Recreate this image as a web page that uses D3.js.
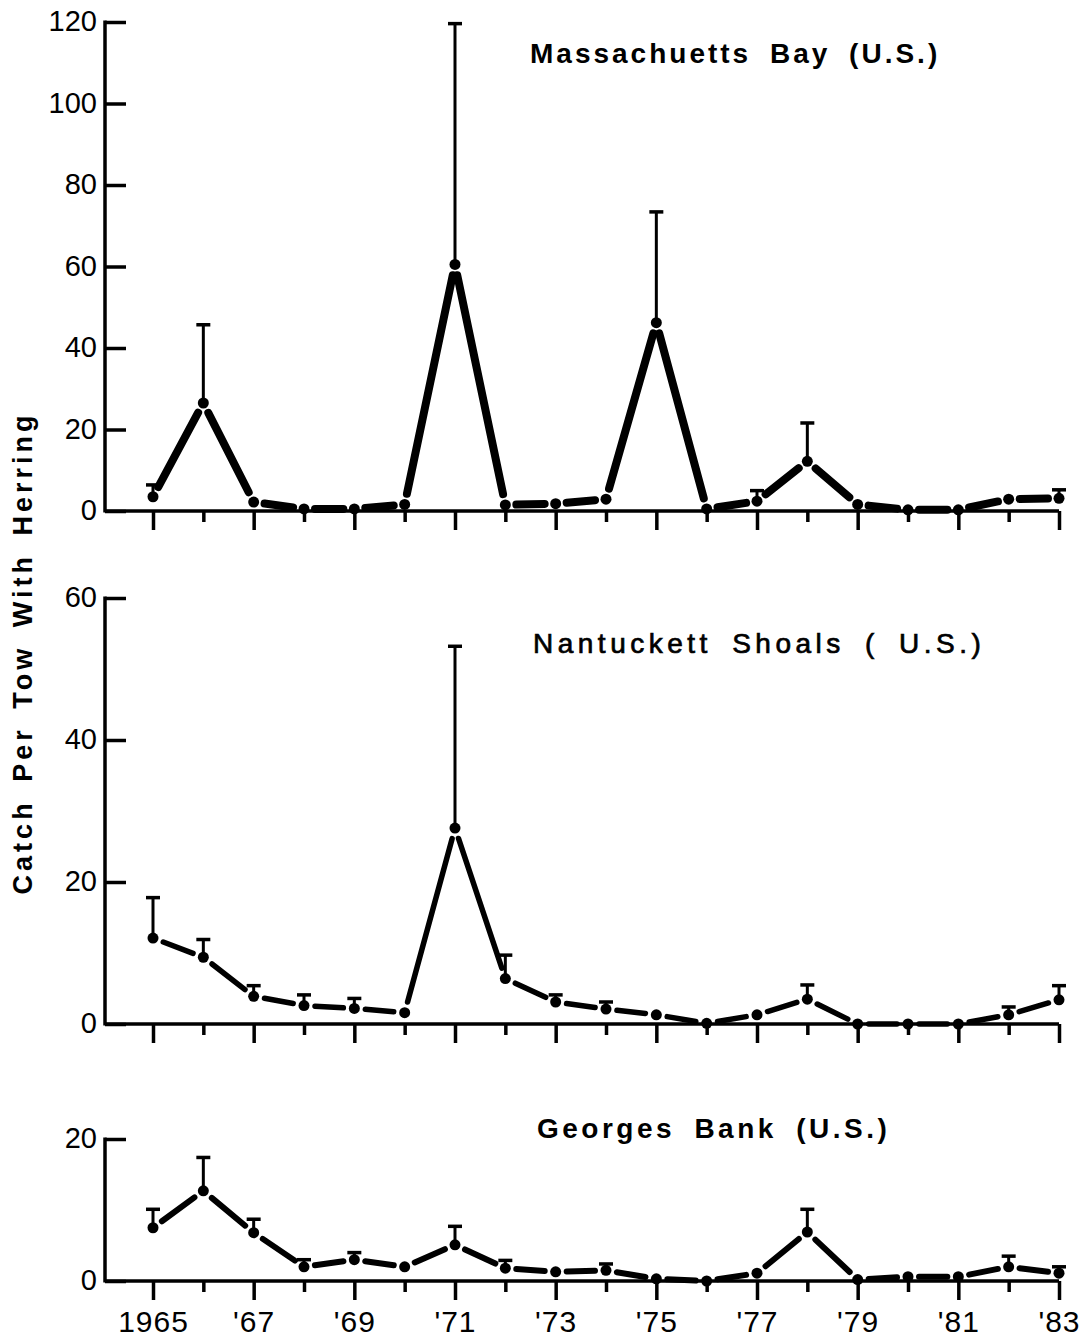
<!DOCTYPE html>
<html>
<head>
<meta charset="utf-8">
<script src="https://cdn.jsdelivr.net/npm/d3@7"></script>
<style>
  body { margin: 0; background: #fff; }
  svg { display: block; font-family: "Liberation Sans", Arial, sans-serif; }
</style>
</head>
<body>
<svg width="1087" height="1341"></svg>
<script>
// survey years and the labels printed under the bottom panel
const years = [1965, 1966, 1967, 1968, 1969, 1970, 1971, 1972, 1973, 1974,
               1975, 1976, 1977, 1978, 1979, 1980, 1981, 1982, 1983];
const yearLabels = ["1965", "'67", "'69", "'71", "'73", "'75", "'77", "'79", "'81", "'83"];

// catch per tow (mean) and top of the error bar, null = no bar drawn
const massBay    = [3.5, 26.5, 2.2, 0.5, 0.5, 1.6, 60.5, 1.5, 1.8, 2.9, 46.2, 0.5, 2.4, 12.2, 1.6, 0.3, 0.3, 2.9, 3.1];
const massBayErr = [6.4, 45.7, null, null, null, null, 119.6, null, null, null, 73.4, null, 5.0, 21.6, null, null, null, null, 5.2];

const nantucket    = [12.1, 9.4, 3.9, 2.6, 2.2, 1.6, 27.6, 6.4, 3.1, 2.1, 1.3, 0.1, 1.3, 3.5, 0, 0, 0, 1.3, 3.4];
const nantucketErr = [17.8, 11.9, 5.4, 4.1, 3.6, null, 53.2, 9.7, 4.1, 3.1, null, null, null, 5.5, null, null, null, 2.4, 5.4];

const georges    = [7.5, 12.7, 6.8, 2.0, 3.0, 2.0, 5.1, 1.8, 1.3, 1.5, 0.3, 0, 1.1, 6.9, 0.2, 0.6, 0.6, 2.0, 1.1];
const georgesErr = [10.1, 17.4, 8.7, 3.0, 4.0, null, 7.7, 2.9, null, 2.4, null, null, null, 10.1, null, null, null, 3.5, 2.0];

const massTicks = [0, 20, 40, 60, 80, 100, 120];
const nantTicks = [0, 20, 40, 60];
const georgesTicks = [0, 20];

const titles = ["Massachuetts Bay (U.S.)", "Nantuckett Shoals ( U.S.)", "Georges Bank (U.S.)"];
const yTitle = "Catch Per Tow With Herring";

// layout for each panel
const panels = [
  {vals: massBay, errs: massBayErr, ticks: massTicks, top: 22, base: 511, lw: 8,
   title: titles[0], tx: 530, ty: 63, weight: "bold", ls: 3, ws: 8},
  {vals: nantucket, errs: nantucketErr, ticks: nantTicks, top: 598, base: 1024, lw: 5.5,
   title: titles[1], tx: 533, ty: 653, weight: "normal", ls: 4.5, ws: 8},
  {vals: georges, errs: georgesErr, ticks: georgesTicks, top: 1139, base: 1281, lw: 6,
   title: titles[2], tx: 537, ty: 1138, weight: "bold", ls: 3.5, ws: 8}
];

const axisX = 105;
const svg = d3.select("svg");
const x = d3.scaleLinear().domain([1965, 1983]).range([153, 1059]);

// shorten a segment at both ends so the line stops short of the dots
const trim = (a, b, g) => {
  let dx = b[0] - a[0], dy = b[1] - a[1], len = Math.hypot(dx, dy);
  if (len <= 2 * g) return null;
  return [a[0] + dx * g / len, a[1] + dy * g / len, b[0] - dx * g / len, b[1] - dy * g / len];
};

const drawPanel = (p, i) => {
  let y = d3.scaleLinear().domain([0, d3.max(p.ticks)]).range([p.base, p.top]);
  let g = svg.append("g").attr("class", "panel");

  // y axis, ticks pointing inward
  let ya = g.append("g")
            .attr("transform", `translate(${axisX},0)`)
            .call(d3.axisLeft(y).tickValues(p.ticks).tickSizeInner(-21).tickSizeOuter(0).tickPadding(8).tickFormat(d3.format("d")));
  ya.select(".domain").attr("stroke-width", 3.5).attr("d", `M0,${p.top - 1.5}V${p.base + 1.5}`);
  ya.selectAll(".tick line").attr("stroke-width", 3.5);
  ya.selectAll(".tick text")
    .attr("dy", "0.3em")
    .style("font-size", "29px")
    .style("font-family", "\"Liberation Sans\", Arial, sans-serif")
    .attr("fill", "#000");

  // x axis baseline + year ticks
  g.append("line")
   .attr("x1", axisX).attr("x2", x(1983))
   .attr("y1", p.base).attr("y2", p.base)
   .attr("stroke", "#000").attr("stroke-width", 3.5);
  let xa = g.append("g")
            .attr("transform", `translate(0,${p.base})`)
            .call(d3.axisBottom(x).tickValues(years).tickSizeOuter(0).tickPadding(24)
                    .tickFormat(d => (i === 2 && d % 2 === 1) ? yearLabels[(d - 1965) / 2] : ""));
  xa.select(".domain").remove();
  xa.selectAll(".tick line")
    .attr("y2", d => d % 2 === 1 ? 19 : 11)
    .attr("stroke-width", 3.5);
  xa.selectAll(".tick text")
    .style("font-size", "30px")
    .style("font-family", "\"Liberation Sans\", Arial, sans-serif")
    .style("letter-spacing", "1px")
    .attr("fill", "#000");

  // data line, drawn as separate strokes with gaps at the dots
  let pts = p.vals.map((v, k) => [x(years[k]), y(v)]);
  let segs = d3.pairs(pts).map(([a, b]) => trim(a, b, 11)).filter(s => s);
  g.append("g").selectAll("line")
   .data(segs)
   .enter()
   .append("line")
     .attr("x1", s => s[0]).attr("y1", s => s[1])
     .attr("x2", s => s[2]).attr("y2", s => s[3])
     .attr("stroke", "#000")
     .attr("stroke-width", p.lw)
     .attr("stroke-linecap", "round");

  // error bars
  let eb = g.append("g").selectAll("g")
            .data(years.map((yr, k) => ({yr, v: p.vals[k], e: p.errs[k]})).filter(d => d.e !== null))
            .enter()
            .append("g");
  eb.append("line")
    .attr("x1", d => x(d.yr)).attr("x2", d => x(d.yr))
    .attr("y1", d => y(d.v)).attr("y2", d => y(d.e))
    .attr("stroke", "#000").attr("stroke-width", 3);
  eb.append("line")
    .attr("x1", d => x(d.yr) - 7).attr("x2", d => x(d.yr) + 7)
    .attr("y1", d => y(d.e)).attr("y2", d => y(d.e))
    .attr("stroke", "#000").attr("stroke-width", 3.5);

  // dots
  g.append("g").selectAll("circle")
   .data(pts)
   .enter()
   .append("circle")
     .attr("cx", d => d[0]).attr("cy", d => d[1])
     .attr("r", 5.5)
     .attr("fill", "#000");

  // panel title
  g.append("text")
   .attr("x", p.tx).attr("y", p.ty)
   .style("font-size", "28px")
   .style("font-weight", p.weight)
   .style("letter-spacing", `${p.ls}px`)
   .style("word-spacing", `${p.ws}px`)
   .attr("stroke", p.weight === "bold" ? "none" : "#000")
   .attr("stroke-width", 0.7)
   .text(p.title);
};

panels.forEach(drawPanel);

// shared y title
svg.append("text")
   .attr("transform", "translate(32,653) rotate(-90)")
   .attr("text-anchor", "middle")
   .style("font-size", "27px")
   .style("font-weight", "bold")
   .style("letter-spacing", "4px")
   .style("word-spacing", "6px")
   .text(yTitle);
</script>
</body>
</html>
